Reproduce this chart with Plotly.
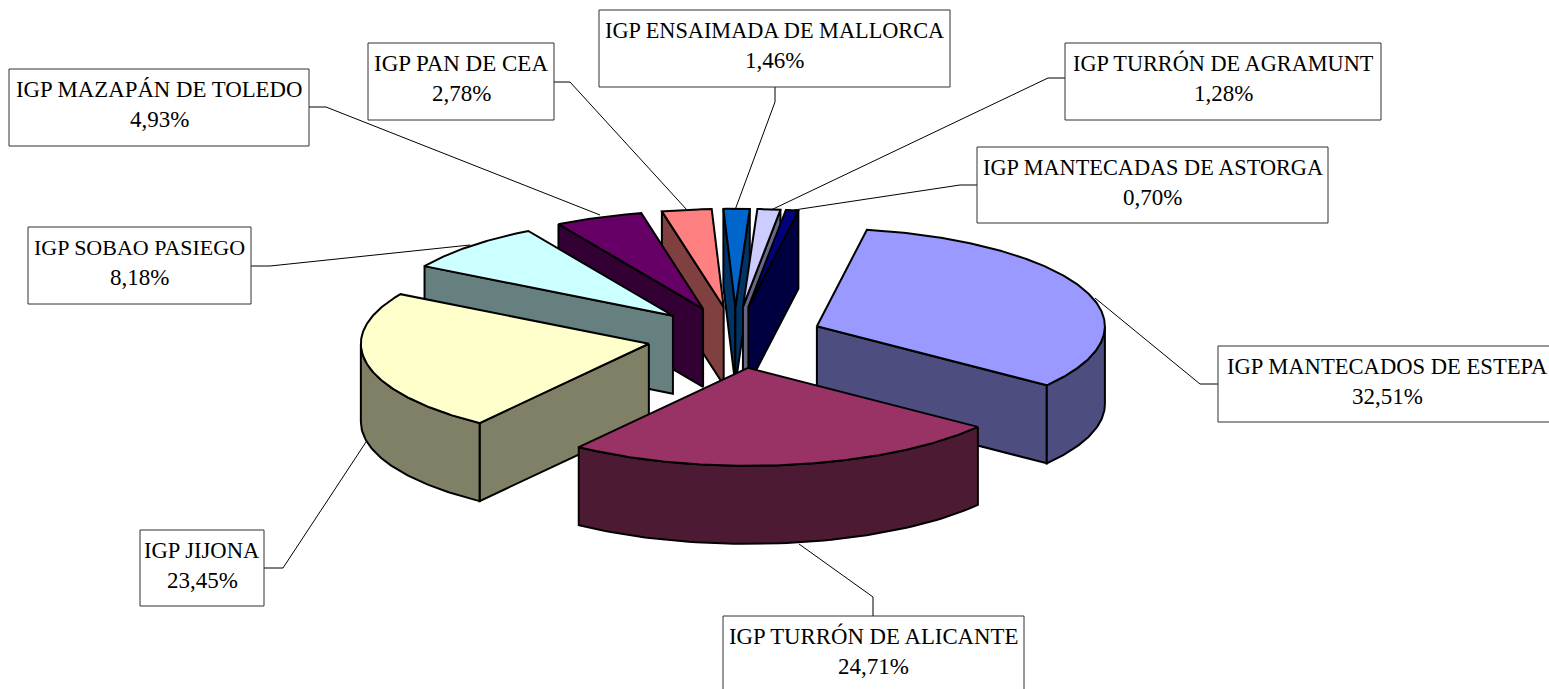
import numpy as np
import plotly.graph_objects as go

# ---- data ----
names = ["IGP MANTECADOS DE ESTEPA", "IGP TURRÓN DE ALICANTE", "IGP JIJONA", "IGP SOBAO PASIEGO",
         "IGP MAZAPÁN DE TOLEDO", "IGP PAN DE CEA", "IGP ENSAIMADA DE MALLORCA",
         "IGP TURRÓN DE AGRAMUNT", "IGP MANTECADAS DE ASTORGA"]
shares = [32.51, 24.71, 23.45, 8.18, 4.93, 2.78, 1.46, 1.28, 0.70]
value_labels = ["32,51%", "24,71%", "23,45%", "8,18%", "4,93%", "2,78%", "1,46%", "1,28%", "0,70%"]
top_colors = ["#9999FF", "#993366", "#FFFFCC", "#CCFFFF", "#660066", "#FF8080", "#0066CC", "#CCCCFF", "#000080"]
side_colors = ["#4D4D80", "#4D1A33", "#808066", "#668080", "#330033", "#804040", "#003366", "#666680", "#000040"]

# ---- pie geometry (screen projection) ----
CX, CY = 735.0, 337.5
RX, RY = 288.0, 98.0
EX, EY = 88.0, 30.7
DEPTH = 78.0
START = 10.0
W, H = 1549, 689

# ---- label layout: box x0, y0, x1, y1 and leader polyline ----
boxes = [(1218, 346, 1556, 422), (723, 616, 1024, 700), (140, 530, 264, 606), (28, 227, 251, 304),
         (9, 69, 309, 146), (368, 43, 554, 120), (599, 10, 950, 87), (1065, 43, 1381, 120), (977, 147, 1328, 223)]
leaders = [[(1218, 384), (1200, 384), (1095, 298)],
           [(873, 616), (873, 597), (799, 544)],
           [(264, 568), (283, 568), (366, 442)],
           [(251, 266), (270, 266), (470, 245)],
           [(309, 107), (326, 107), (600, 215)],
           [(554, 82), (570, 82), (687, 210)],
           [(775, 87), (775, 102), (735, 210)],
           [(1065, 78), (1048, 78), (771, 210)],
           [(977, 185), (960, 185), (794, 210)]]
name_sizes = [22.6, 22.8, 22.6, 22, 22.8, 23, 22.3, 22.3, 22.3]
VALUE_SIZE = 23


def project(apex, ang, r=1.0):
    a = np.radians(ang)
    return apex[0] + r * RX * np.sin(a), apex[1] - r * RY * np.cos(a)


fig = go.Figure()


def face(xs, ys, color, name):
    fig.add_trace(go.Scatter(x=list(xs), y=list(ys), mode="lines", fill="toself", fillcolor=color,
                             line=dict(color="black", width=2), hoverinfo="skip", showlegend=False, name=name))


edges = START + np.cumsum([0.0] + shares) * 3.6
wedges = []
for i, nm in enumerate(names):
    s, e = edges[i], edges[i + 1]
    mid = np.radians((s + e) / 2)
    apex = (CX + EX * np.sin(mid), CY - EY * np.cos(mid))
    wedges.append((apex[1], i, s, e, apex))

for _, i, s, e, apex in sorted(wedges, key=lambda w: w[0]):
    nm = names[i]
    # radial cut faces that turn toward the viewer
    if 180 < (s % 360) < 360:
        px, py = project(apex, s)
        face([apex[0], px, px, apex[0], apex[0]], [apex[1], py, py + DEPTH, apex[1] + DEPTH, apex[1]],
             side_colors[i], nm + " corte")
    if 0 < (e % 360) < 180:
        px, py = project(apex, e)
        face([apex[0], px, px, apex[0], apex[0]], [apex[1], py, py + DEPTH, apex[1] + DEPTH, apex[1]],
             side_colors[i], nm + " corte")
    # outer rim, front part only
    lo, hi = max(s, 90.0), min(e, 270.0)
    if hi > lo:
        t = np.linspace(lo, hi, 60)
        px, py = project(apex, t)
        face(np.r_[px, px[::-1], px[0]], np.r_[py, py[::-1] + DEPTH, py[0]], side_colors[i], nm + " borde")
    # top face
    t = np.linspace(s, e, max(int(e - s) * 2, 8))
    px, py = project(apex, t)
    face(np.r_[apex[0], px, apex[0]], np.r_[apex[1], py, apex[1]], top_colors[i], nm)

shapes, annotations = [], []
for i, nm in enumerate(names):
    pts = leaders[i]
    path = "M " + " L ".join(f"{x},{y}" for x, y in pts)
    shapes.append(dict(type="path", path=path, line=dict(color="black", width=1), layer="above"))
    x0, y0, x1, y1 = boxes[i]
    shapes.append(dict(type="rect", x0=x0, y0=y0, x1=x1, y1=y1, line=dict(color="#303030", width=1),
                       fillcolor="white", layer="above"))
    xc = (x0 + x1) / 2
    for txt, yy, sz in ((nm, y0 + 20, name_sizes[i]), (value_labels[i], y0 + 50, VALUE_SIZE)):
        annotations.append(dict(x=xc, y=yy, text=txt, showarrow=False, xanchor="center", yanchor="middle",
                                font=dict(family="Liberation Serif", size=sz, color="black")))

fig.update_layout(width=W, height=H, margin=dict(l=0, r=0, t=0, b=0), paper_bgcolor="white", plot_bgcolor="white",
                  xaxis=dict(range=[0, W], visible=False, fixedrange=True),
                  yaxis=dict(range=[H, 0], visible=False, fixedrange=True),
                  shapes=shapes, annotations=annotations, showlegend=False)
fig.write_html("out.html", config={"displayModeBar": False},
               post_script="document.body.style.margin='0';")
